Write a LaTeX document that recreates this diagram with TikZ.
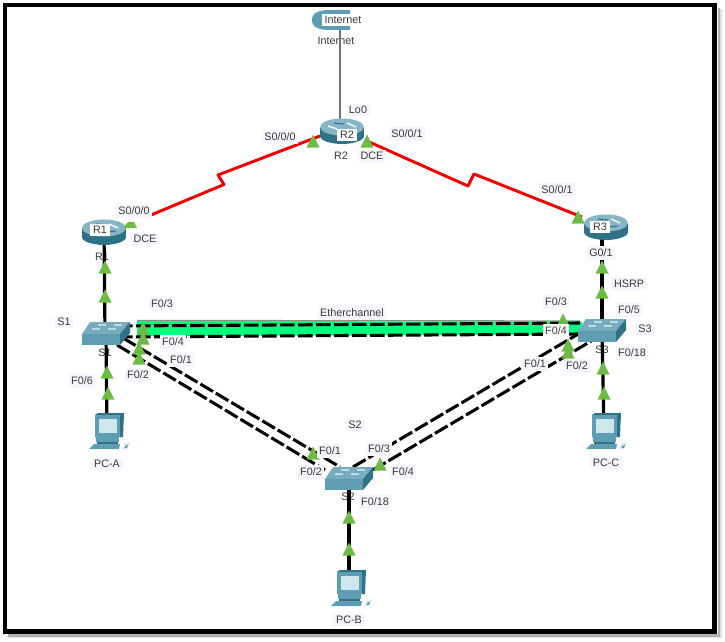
\documentclass[tikz,border=0pt]{standalone}
\usepackage{fontspec}
\setmainfont{Liberation Sans}
\usetikzlibrary{calc}
\definecolor{ciscoMid}{HTML}{5F9DB3}
\definecolor{ciscoDark}{HTML}{2F7187}
\definecolor{ciscoLight}{HTML}{B9DCE6}
\definecolor{portGreen}{HTML}{6DBB45}
\definecolor{bundleGreen}{HTML}{00FF7C}
\definecolor{labelBack}{HTML}{F5F6FB}
\definecolor{labelInk}{HTML}{3A3A3A}
\tikzset{
  anchorpt/.style={inner sep=0pt,minimum size=0pt},
  lab/.style={fill=labelBack,text=labelInk,inner sep=2pt,font=\fontsize{8.1}{9}\selectfont},
  boxwhite/.style={lab,fill=white},
  plainlab/.style={text=labelInk,inner sep=1pt,font=\fontsize{8.1}{9}\selectfont},
  copper/.style={black,line width=2.4pt},
  serial/.style={red!95!black,line width=2.2pt,line join=round},
  bundled/.style={black,line width=2.3pt,dash pattern=on 11pt off 2.5pt},
  pics/routericon/.style={code={
    \shade[left color=ciscoDark,middle color=ciscoLight,right color=ciscoDark]
      (-22,-3) -- (22,-3) -- (22,5) .. controls (22,10) and (10,13) .. (0,13)
      .. controls (-10,13) and (-22,10) .. (-22,5) -- cycle;
    \fill[ciscoMid!75!white] (0,-4) ellipse [x radius=22,y radius=8.5];
    \draw[white,line width=1pt] (-14,-5) -- (-5,-2) (5,-8) -- (14,-4);
    \draw[ciscoDark,line width=0.8pt] (-8,-8) -- (2,-7) (2,0) -- (12,-1);
  }},
  pics/switchicon/.style={code={
    \fill[ciscoMid!85!white] (-24,1) -- (-16,-11) -- (24,-11) -- (14,1) -- cycle;
    \fill[ciscoMid] (-24,1) -- (14,1) -- (14,12) -- (-24,12) -- cycle;
    \fill[ciscoDark] (14,1) -- (24,-11) -- (24,0) -- (14,12) -- cycle;
    \draw[ciscoLight,line width=0.8pt] (-14,-4) -- (-6,-4) (-8,-8) -- (0,-8) (2,-4) -- (10,-4) (8,-8) -- (16,-8);
  }},
  pics/pcicon/.style={code={
    \fill[ciscoDark] (-12,-16) -- (-9,-18) -- (17,-18) -- (16,6) -- (-12,6) -- cycle;
    \fill[ciscoMid] (-12,-16) -- (13,-16) -- (13,6) -- (-12,6) -- cycle;
    \fill[ciscoLight!70!white] (-8,-12) rectangle (10,2);
    \fill[ciscoMid] (-11,6) rectangle (12,11);
    \fill[ciscoDark] (-10,11) rectangle (11,12.5);
    \fill[ciscoMid] (-13,13) -- (13,13) -- (12,18) -- (-18,18) -- cycle;
    \fill[ciscoLight!60!white] (17,13) -- (22,11) -- (23,13) -- (19,18) -- (16,18) -- cycle;
    \fill[ciscoMid] (18,15) -- (21,14) -- (20,17) -- (17.5,17) -- cycle;
  }},
  pics/portup/.style={code={
    \fill[portGreen] (-6.5,6.5) -- (6.5,6.5) -- (0,-6.5) -- cycle;
  }},
  pics/portflat/.style={code={
    \fill[portGreen] (-7,3) -- (7,3) -- (4,-3) -- (-2,-3) -- cycle;
  }},
}
\begin{document}
\begin{tikzpicture}[x=0.75pt,y=-0.75pt]
\useasboundingbox (0,0) rectangle (725,642);

% outer frame with its soft shadow on the right and lower sides
\draw[black!12,line width=2pt] (721,9) -- (721,637) -- (9,637);
\draw[black!30,line width=2pt] (719,8) -- (719,635.5) -- (8,635.5);
\draw[black,line width=3.6pt,line join=miter] (5,5) rectangle (714.5,631.5);

% device positions
\node[anchorpt] (inet) at (336,20) {};
\node[anchorpt] (r1) at (104,232) {};
\node[anchorpt] (r2) at (342,131) {};
\node[anchorpt] (r3) at (606,227) {};
\node[anchorpt] (s1) at (106,333) {};
\node[anchorpt] (s2) at (349,478) {};
\node[anchorpt] (s3) at (602,330) {};
\node[anchorpt] (pca) at (107,431) {};
\node[anchorpt] (pcb) at (349,588) {};
\node[anchorpt] (pcc) at (604,431) {};
\coordinate (kinkLa) at (224,184.5);
\coordinate (kinkLb) at (218,175);
\coordinate (kinkRa) at (468,186);
\coordinate (kinkRb) at (474,174);

% device names that sit under the links
\node[plainlab] (nameInet) at (336,41) {Internet};
\node[plainlab] (nameR1) at (102,257) {R1};
\node[plainlab] (nameR2) at (341,156) {R2};
\node[plainlab] (nameS1) at (105,353) {S1};
\node[plainlab] (nameS2) at (348,497) {S2};
\node[plainlab] (nameS3) at (602,350) {S3};

% WAN links
\draw[black!55,line width=1.3pt] (inet.center)++(4,0) -- ([shift={(-2,-10)}]r2.center);
\draw[serial] ([shift={(47,-17)}]r1.center) -- (kinkLa) -- (kinkLb) -- ([shift={(-22,5)}]r2.center);
\draw[serial] ([shift={(25,10)}]r2.center) -- (kinkRa) -- (kinkRb) -- ([shift={(-24,-10)}]r3.center);

% access links
\draw[copper] (r1.center) -- ([shift={(-1,0)}]s1.center);
\draw[copper] ([shift={(-4,0)}]r3.center) -- ([shift={(0,0)}]s3.center);
\draw[copper] ([shift={(0,0)}]s1.center) -- (pca.center);
\draw[copper] (s2.center) -- (pcb.center);
\draw[copper] (s3.center) -- (pcc.center);

% EtherChannel between S1 and S3
\draw[black!45,line width=1pt] ([shift={(31,-12.5)}]s1.center) -- ([shift={(-22,-9)}]s3.center);
\fill[bundleGreen] ([shift={(31,-12)}]s1.center) -- ([shift={(-20,-8.5)}]s3.center)
  -- ([shift={(-20,5)}]s3.center) -- ([shift={(31,3)}]s1.center) -- cycle;
\draw[bundled] ([shift={(12,-7)}]s1.center) -- ([shift={(-22,-7)}]s3.center);
\draw[bundled] ([shift={(12,4)}]s1.center) -- ([shift={(-22,4)}]s3.center);

% redundant trunks towards S2
\draw[bundled] ([shift={(17,5)}]s1.center) -- ([shift={(-9,-11)}]s2.center);
\draw[bundled] ([shift={(11,12)}]s1.center) -- ([shift={(-24,-8)}]s2.center);
\draw[bundled] ([shift={(4,-11)}]s2.center) -- ([shift={(-17,0)}]s3.center);
\draw[bundled] ([shift={(24,-8)}]s2.center) -- ([shift={(-9,10)}]s3.center);

% device icons
\fill[ciscoMid] (312,20) .. controls (312,12) and (320,10) .. (330,10)
  -- (350,10) -- (350,30) -- (330,30) .. controls (320,30) and (312,28) .. (312,20) -- cycle;
\pic at (r1) {routericon};
\pic at (r2) {routericon};
\pic at (r3) {routericon};
\pic at (s1) {switchicon};
\pic at (s2) {switchicon};
\pic at (s3) {switchicon};
\pic at (pca) {pcicon};
\pic at (pcb) {pcicon};
\pic at (pcc) {pcicon};

% link state markers
\pic at (313,141) {portup};
\pic at (367,141) {portup};
\pic at (130,225) {portflat};
\pic at (105,267) {portup};
\pic at (105,296) {portup};
\pic at (143,328) {portup};
\pic at (143,338) {portup};
\pic at (139,348) {portup};
\pic at (139,358) {portup};
\pic at (107,372) {portup};
\pic at (108,393) {portup};
\pic at (578,217) {portup};
\pic at (602,267) {portup};
\pic at (602,292) {portup};
\pic at (563,320) {portup};
\pic at (568,345) {portup};
\pic at (568,352) {portup};
\pic at (603,368) {portup};
\pic at (604,393) {portup};
\pic at (313,453) {portup};
\pic at (380,464) {portup};
\pic at (349,517) {portup};
\pic at (349,549) {portup};

% interface and device labels
\node[boxwhite] (lblInet) at (343,20) {Internet};
\node[lab] (lblLo) at (358,110) {Lo0};
\node[boxwhite] (lblR2) at (347,135) {R2};
\node[lab] (lblA) at (280,137) {S0/0/0};
\node[lab] (lblB) at (407,134) {S0/0/1};
\node[lab] (lblC) at (372,156) {DCE};
\node[lab] (lblD) at (134,211) {S0/0/0};
\node[boxwhite] (lblR1) at (100,230) {R1};
\node[lab] (lblE) at (145,239) {DCE};
\node[lab] (lblF) at (557,190) {S0/0/1};
\node[boxwhite] (lblR3) at (600,227) {R3};
\node[lab] (lblG) at (601,253) {G0/1};
\node[lab] (lblH) at (629,284) {HSRP};
\node[lab] (lblI) at (162,304) {F0/3};
\node[lab] (lblJ) at (64,322) {S1};
\node[lab] (lblK) at (173,342) {F0/4};
\node[lab] (lblL) at (181,360) {F0/1};
\node[lab] (lblM) at (138,375) {F0/2};
\node[lab] (lblN) at (82,381) {F0/6};
\node[lab] (lblEc) at (352,313) {Etherchannel};
\node[lab] (lblO) at (556,302) {F0/3};
\node[boxwhite] (lblP) at (556,331) {F0/4};
\node[lab] (lblQ) at (629,310) {F0/5};
\node[lab] (lblR) at (645,329) {S3};
\node[lab] (lblS) at (632,353) {F0/18};
\node[lab] (lblT) at (535,364) {F0/1};
\node[lab] (lblU) at (577,366) {F0/2};
\node[lab] (lblV) at (355,425) {S2};
\node[lab] (lblW) at (330,451) {F0/1};
\node[lab] (lblX) at (311,472) {F0/2};
\node[lab] (lblY) at (379,449) {F0/3};
\node[lab] (lblZ) at (403,472) {F0/4};
\node[lab] (lblAa) at (375,502) {F0/18};
\node[lab] (lblPa) at (107,464) {PC-A};
\node[lab] (lblPb) at (349,620) {PC-B};
\node[lab] (lblPc) at (606,463) {PC-C};
\end{tikzpicture}
\end{document}
